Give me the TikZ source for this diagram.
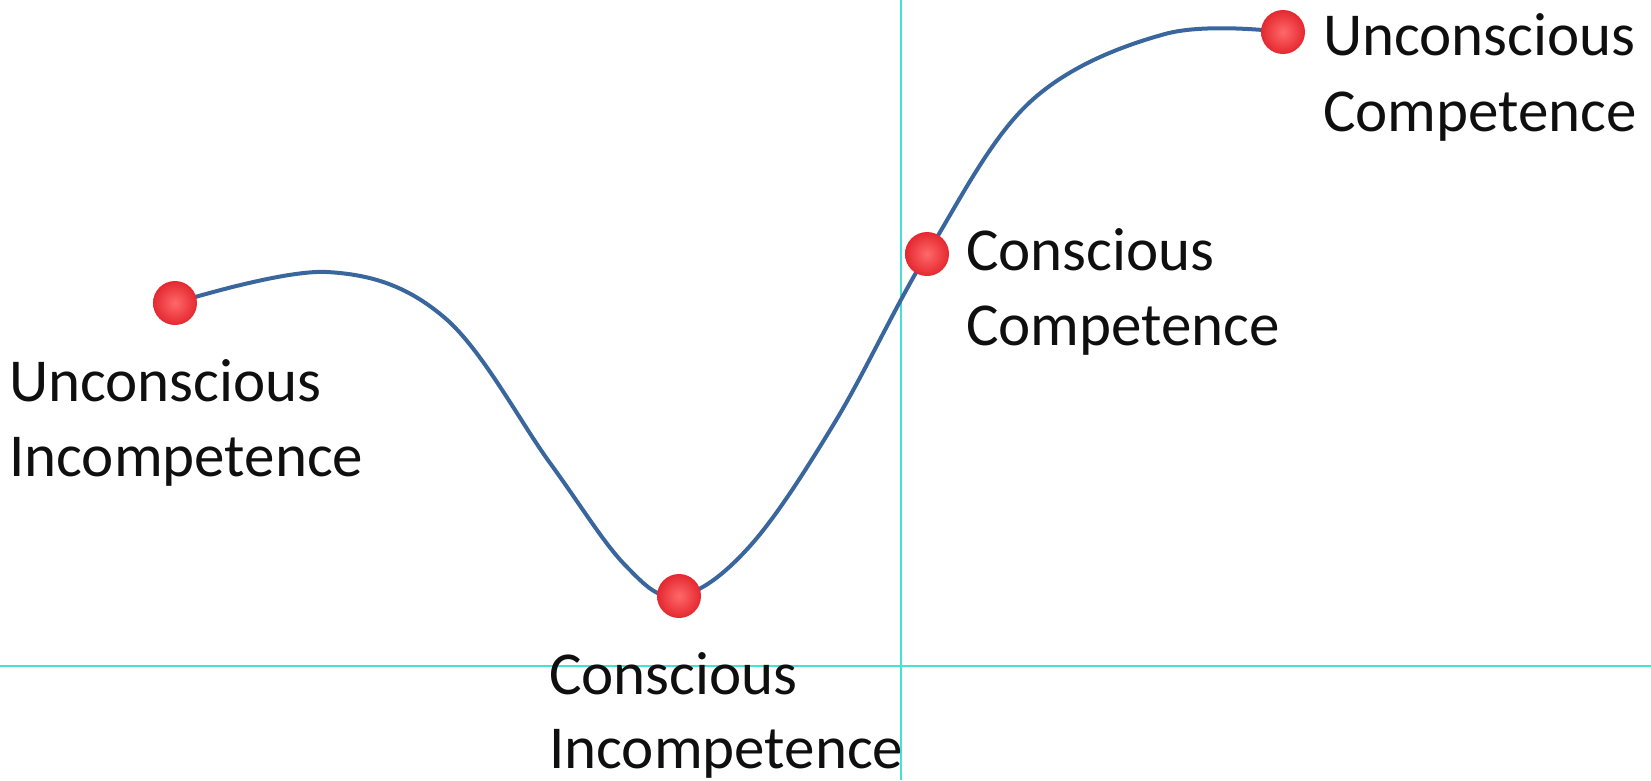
\documentclass[tikz,border=0pt]{standalone}
\usepackage{fontspec}
\setmainfont{Carlito}
\definecolor{guide}{RGB}{70,225,210}
\definecolor{curveblue}{RGB}{58,102,158}
\definecolor{dotin}{RGB}{255,105,105}
\definecolor{dotout}{RGB}{228,40,48}
\definecolor{labeltext}{RGB}{15,15,15}
\begin{document}
\begin{tikzpicture}[x=1pt,y=-1pt,
  guideline/.style={draw=guide,line width=2pt},
  curveline/.style={draw=curveblue,line width=4pt,line cap=round},
  dot/.style={circle,minimum size=44pt,inner sep=0pt,shading=radial,inner color=dotin,outer color=dotout},
  lbl/.style={anchor=base west,inner sep=0pt,text=labeltext,font=\fontsize{61}{75}\selectfont}]
\useasboundingbox[fill=white] (0,0) rectangle (1651,780);
% guide lines
\coordinate (vt) at (901,0);
\coordinate (vb) at (901,780);
\coordinate (hl) at (0,666);
\coordinate (hr) at (1651,666);
\draw[guideline] (vt) -- (vb);
\draw[guideline] (hl) -- (hr);
% dot positions
\coordinate (p1) at (175,303);
\coordinate (p2) at (679,596);
\coordinate (p3) at (927,254);
\coordinate (p4) at (1283,32);
% curve
\draw[curveline] plot[smooth,tension=0.6] coordinates {(p1) (327,272) (445,318) (550,463) (625,565) (p2) (750,546) (835,422) (p3) (1030,102) (1165,34) (p4)};
% dots
\node[dot] (d1) at (p1) {};
\node[dot] (d2) at (p2) {};
\node[dot] (d3) at (p3) {};
\node[dot] (d4) at (p4) {};
% labels
\node[lbl] (ui1) at (9,401) {Unconscious};
\node[lbl] (ui2) at (9,476) {Incompetence};
\node[lbl] (ci1) at (549,694) {Conscious};
\node[lbl] (ci2) at (549,768) {Incompetence};
\node[lbl] (cc1) at (966,270) {Conscious};
\node[lbl] (cc2) at (966,345) {Competence};
\node[lbl] (uc1) at (1323,55) {Unconscious};
\node[lbl] (uc2) at (1323,131) {Competence};
\end{tikzpicture}
\end{document}
